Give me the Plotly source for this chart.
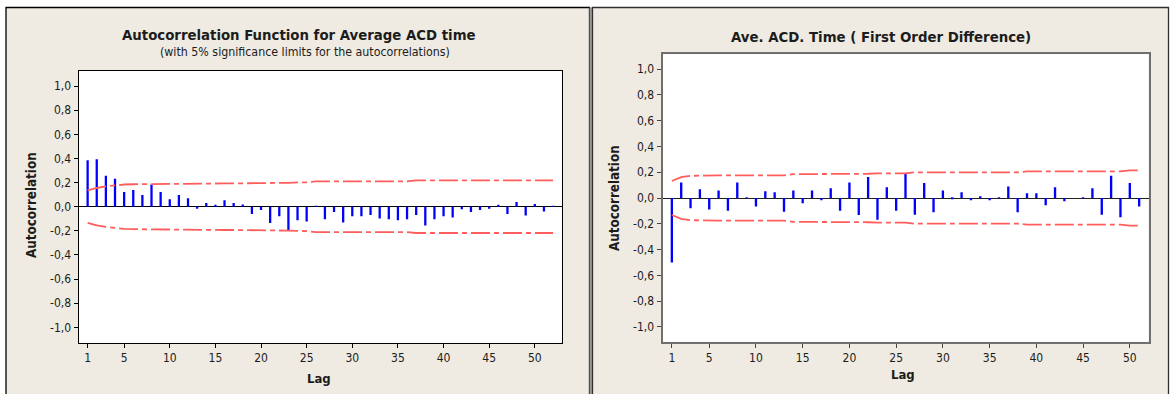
import plotly.graph_objects as go

W, H = 1173, 394

# ---- data: sample autocorrelations and 5% significance limits ----
lags_left = list(range(1, 53))
acf_left = [0.385, 0.393, 0.257, 0.232, 0.122, 0.138, 0.097, 0.183, 0.122, 0.061,
            0.097, 0.069, -0.011, 0.030, 0.011, 0.053, 0.030, 0.019, -0.061, -0.028,
            -0.136, -0.080, -0.196, -0.113, -0.122, 0.002, -0.105, -0.044, -0.130, -0.080,
            -0.080, -0.069, -0.097, -0.105, -0.113, -0.105, -0.069, -0.155, -0.105, -0.080,
            -0.089, -0.022, -0.044, -0.028, -0.011, 0.011, -0.061, 0.039, -0.072, 0.022,
            -0.039, 0.004]
limit_left = [0.135, 0.155, 0.168, 0.178, 0.184, 0.186, 0.187, 0.188, 0.192, 0.193,
              0.193, 0.193, 0.193, 0.193, 0.193, 0.193, 0.193, 0.193, 0.193, 0.196,
              0.196, 0.197, 0.198, 0.201, 0.202, 0.210, 0.210, 0.210, 0.210, 0.210,
              0.210, 0.210, 0.210, 0.210, 0.210, 0.210, 0.218, 0.218, 0.218, 0.218,
              0.218, 0.218, 0.218, 0.218, 0.218, 0.218, 0.218, 0.218, 0.218, 0.218,
              0.218, 0.218]

lags_right = list(range(1, 52))
acf_right = [-0.500, 0.121, -0.080, 0.067, -0.090, 0.059, -0.098, 0.121, 0.003, -0.065,
             0.052, 0.044, -0.106, 0.059, -0.041, 0.059, -0.018, 0.075, -0.098, 0.121,
             -0.132, 0.163, -0.168, 0.083, -0.098, 0.186, -0.129, 0.116, -0.111, 0.059,
             -0.010, 0.044, -0.018, 0.010, -0.018, 0.003, 0.090, -0.111, 0.036, 0.036,
             -0.057, 0.083, -0.026, 0.000, 0.004, 0.075, -0.129, 0.173, -0.150, 0.116,
             -0.065]
limit_right = [0.132, 0.162, 0.172, 0.175, 0.176, 0.176, 0.176, 0.176, 0.176, 0.176,
               0.176, 0.176, 0.176, 0.185, 0.185, 0.185, 0.185, 0.185, 0.185, 0.185,
               0.185, 0.188, 0.191, 0.191, 0.191, 0.191, 0.199, 0.199, 0.199, 0.199,
               0.199, 0.199, 0.199, 0.199, 0.199, 0.199, 0.199, 0.199, 0.206, 0.206,
               0.206, 0.206, 0.206, 0.206, 0.206, 0.206, 0.206, 0.206, 0.206, 0.214,
               0.214]

x_ticks = [1, 5, 10, 15, 20, 25, 30, 35, 40, 45, 50]
y_ticks = [-1.0, -0.8, -0.6, -0.4, -0.2, 0.0, 0.2, 0.4, 0.6, 0.8, 1.0]
y_tick_labels = ["-1,0", "-0,8", "-0,6", "-0,4", "-0,2", "0,0",
                 "0,2", "0,4", "0,6", "0,8", "1,0"]

FONT = "Tahoma, 'DejaVu Sans Condensed', 'Liberation Sans', Arial, sans-serif"
TXT = "#1c1c1c"
BEIGE = "#efebe2"
BAR = "#0000ff"
LIMIT = "#ff5c5c"
DASH = "19px,4px,5px,4px"


def px_x(p):
    return p / W


def px_y(p):
    return 1 - p / H


fig = go.Figure()

# left panel
fig.add_trace(go.Bar(x=lags_left, y=acf_left, width=0.25, marker=dict(color=BAR, line=dict(width=0)),
                     xaxis="x", yaxis="y"))
fig.add_trace(go.Scatter(x=lags_left, y=limit_left, mode="lines",
                         line=dict(color=LIMIT, width=1.8, dash=DASH), xaxis="x", yaxis="y"))
fig.add_trace(go.Scatter(x=lags_left, y=[-v for v in limit_left], mode="lines",
                         line=dict(color=LIMIT, width=1.8, dash=DASH), xaxis="x", yaxis="y"))

# right panel
fig.add_trace(go.Bar(x=lags_right, y=acf_right, width=0.25, marker=dict(color=BAR, line=dict(width=0)),
                     xaxis="x2", yaxis="y2"))
fig.add_trace(go.Scatter(x=lags_right, y=limit_right, mode="lines",
                         line=dict(color=LIMIT, width=1.8, dash=DASH), xaxis="x2", yaxis="y2"))
fig.add_trace(go.Scatter(x=lags_right, y=[-v for v in limit_right], mode="lines",
                         line=dict(color=LIMIT, width=1.8, dash=DASH), xaxis="x2", yaxis="y2"))

tickfont = dict(family=FONT, size=12, color=TXT)

xcommon = dict(tickmode="array", tickvals=x_ticks, ticks="outside", ticklen=4,
               showgrid=False, zeroline=False, showline=True, mirror=True,
               tickfont=tickfont, fixedrange=True)
ycommon = dict(tickmode="array", tickvals=y_ticks, ticktext=y_tick_labels, ticks="outside",
               ticklen=4, showgrid=False, showline=True, mirror=True, zeroline=True,
               tickfont=tickfont, fixedrange=True)

fig.update_layout(
    width=W, height=H, autosize=False,
    margin=dict(l=0, r=0, t=0, b=0, pad=0),
    paper_bgcolor="white", plot_bgcolor="white",
    showlegend=False, hovermode=False, barmode="overlay",
    font=dict(family=FONT, color=TXT),
    xaxis=dict(domain=[px_x(78.5), px_x(562.2)], range=[0, 53], anchor="y",
               linecolor="black", linewidth=1, tickcolor="black", **xcommon),
    yaxis=dict(domain=[px_y(342.7), px_y(70.7)], range=[-1.127, 1.127], anchor="x",
               linecolor="black", linewidth=1, tickcolor="black",
               zerolinecolor="black", zerolinewidth=1, **ycommon),
    xaxis2=dict(domain=[px_x(662.5), px_x(1148.5)], range=[0, 52], anchor="y2",
                linecolor="#6f6f6f", linewidth=2, tickcolor="#444", **xcommon),
    yaxis2=dict(domain=[px_y(341.7), px_y(54.3)], range=[-1.115, 1.115], anchor="x2",
                linecolor="#6f6f6f", linewidth=2, tickcolor="#444",
                zerolinecolor="#202020", zerolinewidth=1.2, **ycommon),
)

# panel frames and plot backgrounds
shapes = [
    dict(type="rect", xref="paper", yref="paper", x0=px_x(6), x1=px_x(589.5),
         y0=-0.05, y1=px_y(7.5), fillcolor=BEIGE, line=dict(color="black", width=1.3), layer="below"),
    dict(type="rect", xref="paper", yref="paper", x0=px_x(589.5), x1=px_x(592.5),
         y0=-0.05, y1=px_y(7.5), fillcolor="#9a9a9a", line=dict(width=0), layer="below"),
    dict(type="rect", xref="paper", yref="paper", x0=px_x(592.5), x1=px_x(1168.5),
         y0=-0.05, y1=px_y(7.5), fillcolor=BEIGE, line=dict(color="#303030", width=1.3), layer="below"),
    dict(type="rect", xref="x domain", yref="y domain", x0=0, x1=1, y0=0, y1=1,
         fillcolor="white", line=dict(width=0), layer="below"),
    dict(type="rect", xref="x2 domain", yref="y2 domain", x0=0, x1=1, y0=0, y1=1,
         fillcolor="white", line=dict(width=0), layer="below"),
]
fig.update_layout(shapes=shapes)


def label(text, x, y, size, bold=False, angle=0):
    return dict(text=f"<b>{text}</b>" if bold else text, x=px_x(x), y=px_y(y),
                xref="paper", yref="paper", showarrow=False, xanchor="center",
                yanchor="middle", textangle=angle,
                font=dict(family=FONT, size=size, color=TXT))


fig.update_layout(annotations=[
    label("Autocorrelation Function for Average ACD time", 298.5, 34.5, 14.8, bold=True),
    label("(with 5% significance limits for the autocorrelations)", 304.8, 51.7, 12.3),
    label("Ave. ACD. Time ( First Order Difference)", 881, 36.5, 14.8, bold=True),
    label("Autocorrelation", 32, 205, 13.3, bold=True, angle=-90),
    label("Autocorrelation", 615, 198, 13.3, bold=True, angle=-90),
    label("Lag", 318.5, 378, 13, bold=True),
    label("Lag", 903, 374, 13, bold=True),
])

fig.write_html("out.html")
